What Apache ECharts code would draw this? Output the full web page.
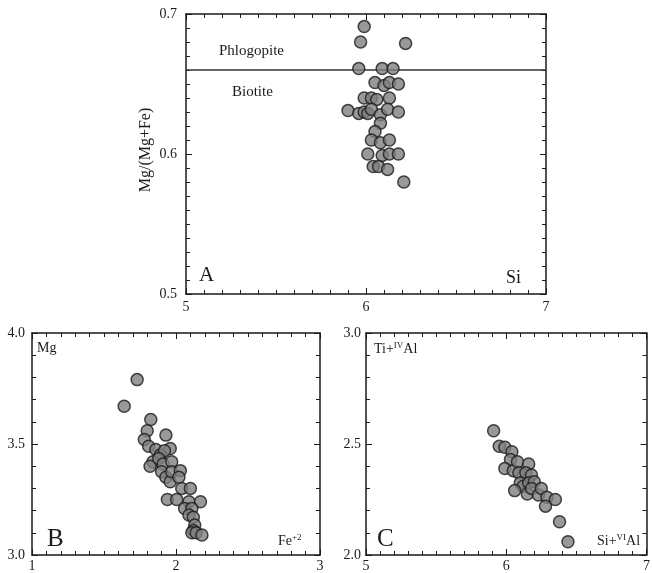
<!DOCTYPE html>
<html>
<head>
<meta charset="utf-8">
<title>Mica classification</title>
<script src="https://cdn.jsdelivr.net/npm/echarts@6/dist/echarts.min.js"></script>
<style>
  html, body { margin: 0; padding: 0; background: #fff; }
  #main { width: 653px; height: 573px; }
</style>
</head>
<body>
<div id="main"></div>
<script>
// panel A: Si vs Mg/(Mg+Fe)
var siA = [5.99, 5.97, 6.22, 5.96, 6.09, 6.15, 6.05, 6.10, 6.13, 6.18,
           5.99, 6.03, 6.06, 6.13, 5.90, 5.96, 5.99, 6.01, 6.03, 6.08,
           6.12, 6.18, 6.08, 6.05, 6.03, 6.08, 6.13, 6.01, 6.09, 6.13,
           6.18, 6.04, 6.07, 6.12, 6.21];
var mgNumA = [0.691, 0.680, 0.679, 0.661, 0.661, 0.661, 0.651, 0.649, 0.651, 0.650,
              0.640, 0.640, 0.639, 0.640, 0.631, 0.629, 0.630, 0.629, 0.632, 0.628,
              0.632, 0.630, 0.622, 0.616, 0.610, 0.608, 0.610, 0.600, 0.599, 0.600,
              0.600, 0.591, 0.591, 0.589, 0.580];
// phlogopite / biotite boundary, drawn across the whole Si range
var boundarySi = [5, 7];
var boundaryMg = [0.66, 0.66];

// panel B: Fe+2 vs Mg
var feB = [1.73, 1.64, 1.825, 1.80, 1.78, 1.81, 1.93, 1.96, 1.86, 1.89,
           1.92, 1.84, 1.82, 1.88, 1.91, 1.90, 1.93, 1.96, 1.97, 1.97,
           2.03, 2.02, 2.04, 2.10, 1.94, 2.005, 2.09, 2.17, 2.06, 2.11,
           2.09, 2.12, 2.13, 2.12, 2.11, 2.14, 2.18];
var mgB = [3.79, 3.67, 3.61, 3.56, 3.52, 3.49, 3.54, 3.48, 3.475, 3.45,
           3.47, 3.42, 3.40, 3.435, 3.41, 3.375, 3.35, 3.33, 3.42, 3.375,
           3.38, 3.35, 3.30, 3.30, 3.25, 3.25, 3.24, 3.24, 3.21, 3.21,
           3.18, 3.17, 3.135, 3.11, 3.10, 3.10, 3.09];

// panel C: Si+VIAl vs Ti+IVAl
var siAlC = [5.91, 5.95, 5.99, 6.04, 6.03, 5.99, 6.05, 6.08, 6.09, 6.16,
             6.14, 6.18, 6.10, 6.12, 6.16, 6.20, 6.06, 6.15, 6.18, 6.23,
             6.25, 6.29, 6.28, 6.35, 6.38, 6.44];
var tiAlC = [2.56, 2.49, 2.485, 2.465, 2.43, 2.39, 2.38, 2.42, 2.37, 2.41,
             2.37, 2.36, 2.325, 2.31, 2.325, 2.33, 2.29, 2.275, 2.30, 2.27,
             2.30, 2.26, 2.22, 2.25, 2.15, 2.06];

function zip(xs, ys) {
    return xs.map(function (x, i) { return [x, ys[i]]; });
}

var SERIF = '"Liberation Serif", "DejaVu Serif", serif';
var INK = '#1a1a1a';

// one value axis with inward major + minor ticks
function axis(grid, pos, min, max, interval, minorSplit, labelMargin) {
    return {
        type: 'value',
        gridIndex: grid,
        position: pos,
        min: min,
        max: max,
        interval: interval,
        splitLine: { show: false },
        axisLine: { show: true, onZero: false, lineStyle: { color: INK, width: 1.5 } },
        axisTick: { show: true, inside: true, length: 6, lineStyle: { color: INK, width: 1 } },
        minorTick: { show: true, splitNumber: minorSplit, length: 4, lineStyle: { color: INK, width: 1 } },
        axisLabel: {
            show: labelMargin != null,
            showMinLabel: true, showMaxLabel: true,
            color: INK, fontFamily: SERIF, fontSize: 14, margin: labelMargin || 8,
            formatter: (pos === 'left' && interval < 1)
                ? function (v) { return v.toFixed(1); }
                : function (v) { return String(v); }
        }
    };
}

var dot = {
    type: 'scatter',
    symbol: 'circle',
    symbolSize: 12,
    z: 3,
    itemStyle: { color: '#808080', borderColor: INK, borderWidth: 1.5 },
    emphasis: { disabled: true }
};
function sc(data, xi, yi) {
    return Object.assign({}, dot, { data: data, xAxisIndex: xi, yAxisIndex: yi });
}

function label(x, y, text, size, rich) {
    return {
        type: 'text', left: x, top: y,
        style: { text: text, fontFamily: SERIF, fontSize: size, fill: INK, rich: rich || {} }
    };
}
var supRich = {
    n: { fontFamily: SERIF, fontSize: 14, fill: INK, color: INK },
    s: { fontFamily: SERIF, fontSize: 9, fill: INK, color: INK, verticalAlign: 'top', padding: [0, 0, 8, 0] }
};

var chart = echarts.init(document.getElementById('main'));
chart.setOption({
    backgroundColor: '#fff',
    animation: false,
    grid: [
        { left: 186, top: 14, width: 360, height: 280 },
        { left: 32, top: 333, width: 288, height: 224 },
        { left: 366, top: 333, width: 286, height: 224 }
    ],
    xAxis: [
        axis(0, 'bottom', 5, 7, 1, 10, 6),
        axis(1, 'bottom', 1, 3, 1, 10, 4),
        axis(2, 'bottom', 5, 7, 1, 10, 4),
        axis(0, 'top', 5, 7, 1, 10, null),
        axis(1, 'top', 1, 3, 1, 10, null),
        axis(2, 'top', 5, 7, 1, 10, null)
    ],
    yAxis: [
        axis(0, 'left', 0.5, 0.7, 0.1, 10, 9),
        axis(1, 'left', 3, 4, 0.5, 5, 7),
        axis(2, 'left', 2, 3, 0.5, 5, 5),
        axis(0, 'right', 0.5, 0.7, 0.1, 10, null),
        axis(1, 'right', 3, 4, 0.5, 5, null),
        axis(2, 'right', 2, 3, 0.5, 5, null)
    ],
    series: [
        {
            type: 'line', xAxisIndex: 0, yAxisIndex: 0, z: 1, silent: true,
            symbol: 'none', data: zip(boundarySi, boundaryMg),
            lineStyle: { color: '#333', width: 1.5 }
        },
        sc(zip(siA, mgNumA), 0, 0),
        sc(zip(feB, mgB), 1, 1),
        sc(zip(siAlC, tiAlC), 2, 2)
    ],
    graphic: [
        {
            type: 'text', x: 146, y: 150, rotation: Math.PI / 2,
            style: { text: 'Mg/(Mg+Fe)', fontFamily: SERIF, fontSize: 16, fill: INK,
                     align: 'center', verticalAlign: 'middle' }
        },
        label(219, 44, 'Phlogopite', 15),
        label(232, 85, 'Biotite', 15),
        label(199, 265, 'A', 21),
        label(506, 269, 'Si', 18),
        label(47, 527, 'B', 25),
        label(37, 341, 'Mg', 14),
        label(278, 533, '{n|Fe}{s|+2}', 14, supRich),
        label(377, 527, 'C', 25),
        label(374, 341, '{n|Ti+}{s|IV}{n|Al}', 14, supRich),
        label(597, 533, '{n|Si+}{s|VI}{n|Al}', 14, supRich)
    ]
});
</script>
</body>
</html>
